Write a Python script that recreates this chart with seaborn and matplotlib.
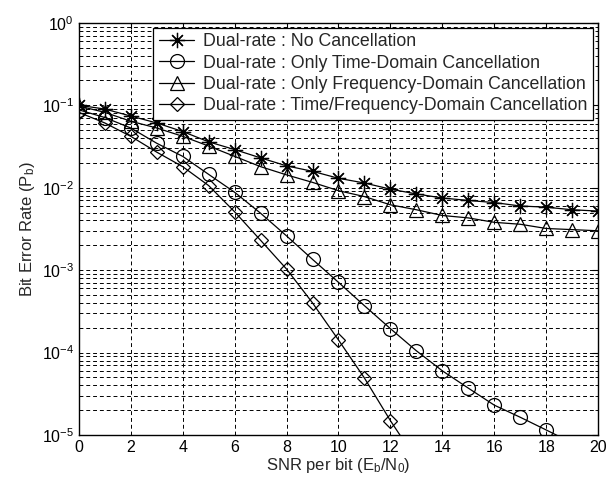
import numpy as np
import pandas as pd
import matplotlib
matplotlib.use("Agg")
import matplotlib.pyplot as plt
import seaborn as sns
from matplotlib.ticker import LogLocator, NullFormatter, FixedLocator

# ---- data ----
snr = list(range(0, 21))
no_cancel = [0.100, 0.090, 0.074, 0.061, 0.048, 0.036, 0.029, 0.023, 0.0184, 0.0158,
             0.0130, 0.0114, 0.0096, 0.0084, 0.0075, 0.0070, 0.0066, 0.0060, 0.0058,
             0.0054, 0.0052]
time_only = [0.088, 0.071, 0.053, 0.0346, 0.024, 0.0145, 0.0088, 0.0049, 0.0026,
             0.00135, 0.00071, 0.00037, 0.000195, 0.000105, 0.000060, 0.000037,
             0.000023, 0.0000164, 0.0000115, 0.0000080]
freq_only = [0.098, 0.082, 0.064, 0.053, 0.042, 0.032, 0.024, 0.018, 0.0143, 0.0116,
             0.0092, 0.0078, 0.0062, 0.0054, 0.0046, 0.0043, 0.0038, 0.0036, 0.0032,
             0.0031, 0.0030]
time_freq = [0.082, 0.061, 0.042, 0.027, 0.018, 0.0106, 0.0051, 0.0023, 0.00103,
             0.00040, 0.000142, 0.000049, 0.0000149, 0.0000050]

labels = ["Dual-rate : No Cancellation",
          "Dual-rate : Only Time-Domain Cancellation",
          "Dual-rate : Only Frequency-Domain Cancellation",
          "Dual-rate : Time/Frequency-Domain Cancellation"]
x_ticks = [0, 2, 4, 6, 8, 10, 12, 14, 16, 18, 20]

sns.set_style("white")
plt.rcParams["font.family"] = ["Liberation Sans", "DejaVu Sans"]
plt.rcParams["mathtext.default"] = "regular"
plt.rcParams["font.size"] = 11

fig = plt.figure(figsize=(6.16, 4.86), dpi=100)
ax = fig.add_axes([0.128, 0.105, 0.843, 0.848])

series = [no_cancel, time_only, freq_only, time_freq]
markers = [(8, 2, 0), "o", "^", "D"]
msizes = [11, 10, 10, 7.5]
for vals, lab, mk, ms in zip(series, labels, markers, msizes):
    xs = snr[:len(vals)]
    sns.lineplot(x=xs, y=vals, ax=ax, color="black", linewidth=0.9,
                 marker=mk, markersize=ms, markerfacecolor="none",
                 markeredgecolor="black", markeredgewidth=0.9, label=lab)

ax.set_yscale("log")
ax.set_xlim(0, 20)
ax.set_ylim(1e-5, 1)
ax.xaxis.set_major_locator(FixedLocator(x_ticks))
ax.yaxis.set_major_locator(LogLocator(base=10, numticks=10))
ax.yaxis.set_minor_locator(LogLocator(base=10, subs=np.arange(2, 10), numticks=20))
ax.yaxis.set_minor_formatter(NullFormatter())

gls = dict(color="black", linewidth=0.7, linestyle=(0, (4, 3)))
ax.grid(True, which="major", axis="both", **gls)
ax.grid(True, which="minor", axis="y", **gls)
ax.set_axisbelow(True)

for s in ax.spines.values():
    s.set_color("black")
    s.set_linewidth(1.0)
ax.tick_params(axis="both", which="both", direction="in", top=True, right=True,
               labelsize=11.5, colors="black")
ax.tick_params(which="major", length=4)
ax.tick_params(which="minor", length=2)

ax.set_xlabel("SNR per bit (E$_b$/N$_0$)", fontsize=12, labelpad=1)
ax.set_ylabel("Bit Error Rate (P$_b$)", fontsize=12, labelpad=3)

leg = ax.legend(loc="upper right", bbox_to_anchor=(0.99, 0.988), fontsize=12.8,
                frameon=True, fancybox=False, edgecolor="black", framealpha=1,
                borderpad=0.3, labelspacing=0.25, handlelength=2.0,
                handletextpad=0.5, borderaxespad=0.0)
leg.get_frame().set_linewidth(0.9)

fig.savefig("out.png", dpi=100)
